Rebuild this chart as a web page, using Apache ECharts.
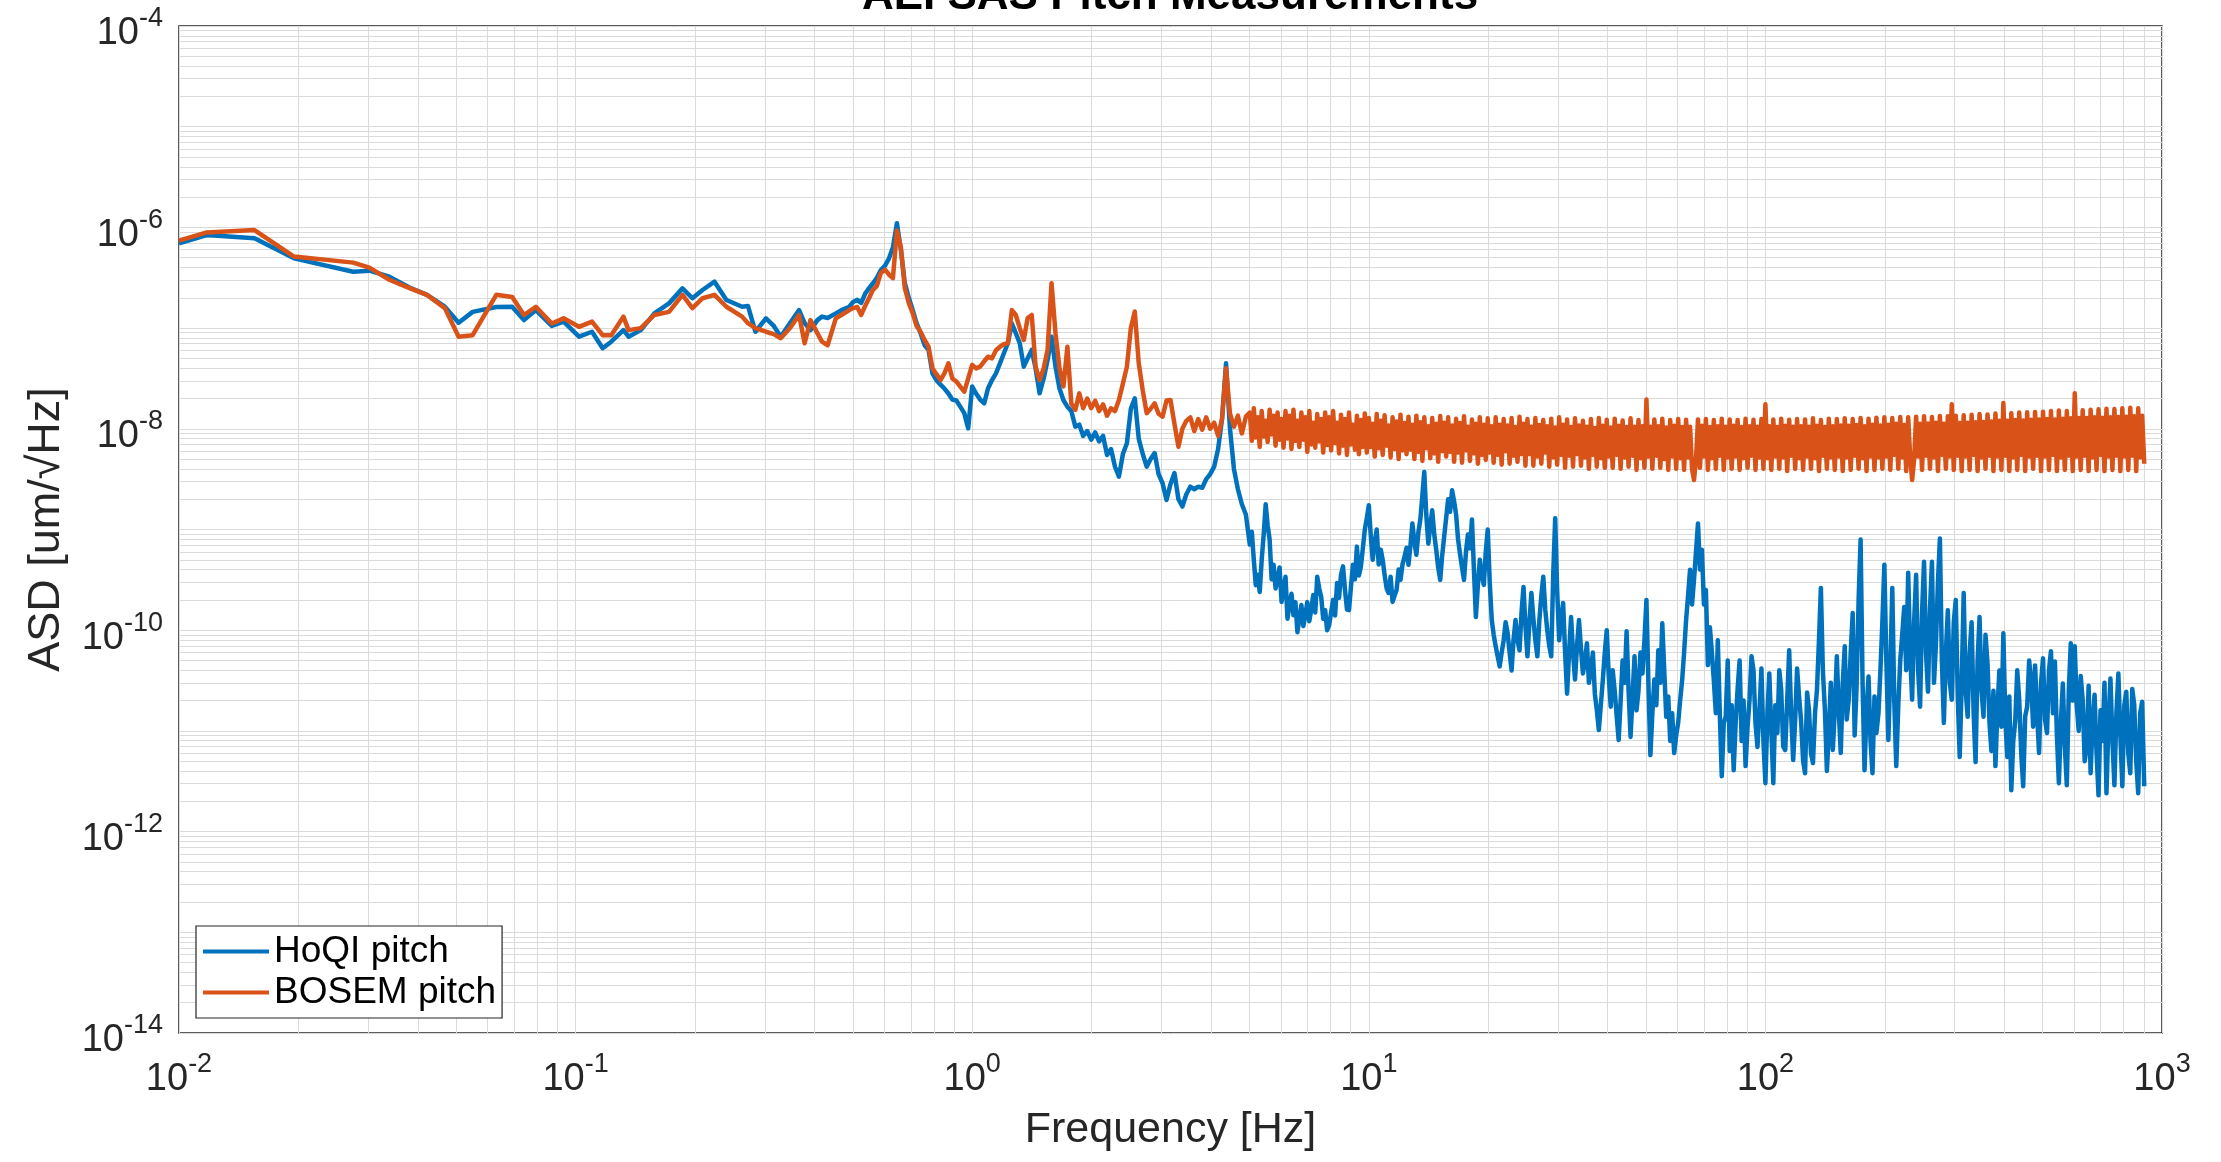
<!DOCTYPE html>
<html>
<head>
<meta charset="utf-8">
<script src="https://cdn.jsdelivr.net/npm/echarts@6/dist/echarts.min.js"></script>
<style>
html,body{margin:0;padding:0;background:#ffffff;}
#chart{width:2221px;height:1162px;}
</style>
</head>
<body>
<div id="chart"></div>
<script>
// Frequency grid [Hz] shared by both spectra
const freq = [
0.01,0.01175,0.0155,0.0195,0.0275,0.0302,0.0339,0.038,0.0422,0.0468,
0.0507,0.055,0.0631,0.0692,0.0741,0.0794,0.0871,0.0933,0.102,0.11,
0.117,0.123,0.132,0.136,0.146,0.158,0.172,0.186,0.197,0.209,
0.224,0.24,0.263,0.272,0.284,0.302,0.316,0.329,0.347,0.366,
0.378,0.391,0.407,0.418,0.432,0.453,0.468,0.49,0.501,
0.513,0.525,0.537,0.55,0.562,0.575,0.589,0.603,0.617,0.631,
0.646,0.661,0.676,0.692,0.708,0.724,0.741,0.759,0.776,0.794,
0.813,0.832,0.851,0.871,0.891,0.912,0.933,0.955,0.977,1.0,
1.023,1.047,1.072,1.096,1.122,1.148,1.175,1.202,1.23,1.259,
1.288,1.318,1.349,1.38,1.413,1.445,1.479,1.514,1.549,1.585,
1.622,1.66,1.698,1.738,1.778,1.82,1.862,1.905,1.95,1.995,
2.042,2.089,2.138,2.188,2.239,2.291,2.344,2.399,2.455,2.512,
2.57,2.63,2.692,2.754,2.818,2.884,2.951,3.02,3.09,3.162,
3.236,3.311,3.388,3.467,3.548,3.631,3.715,3.802,3.89,3.981,
4.074,4.169,4.266,4.365,4.467,4.571,4.677,4.786,4.898,
5.012,5.07,5.129,5.188,5.248,5.309,5.37,5.433,5.495,5.559,5.623,5.689,5.754,5.821,5.888,5.957,6.026,6.095,6.166,6.237,
6.31,6.383,6.457,6.531,6.607,6.683,6.761,6.839,6.918,6.998,7.079,7.161,7.244,7.328,7.413,7.499,7.586,7.674,7.762,7.852,
7.943,8.035,8.128,8.222,8.318,8.414,8.511,8.61,8.71,8.81,8.913,9.016,9.12,9.226,9.333,9.441,9.55,9.661,9.772,9.886,
10,10.12,10.23,10.35,10.47,10.59,10.72,10.84,10.96,11.09,11.22,11.35,11.48,11.61,11.75,11.89,12.02,12.16,12.3,12.45,
12.59,12.74,12.88,13.03,13.18,13.34,13.49,13.65,13.8,13.96,14.13,14.29,14.45,14.62,14.79,14.96,15.14,15.31,15.49,15.67,
15.85,16.03,16.22,16.41,16.6,16.79,16.98,17.18,17.38,17.58,17.78,17.99,18.2,18.41,18.62,18.84,19.05,19.28,19.5,19.72,
19.95,20.18,20.42,20.65,20.89,21.13,21.38,21.63,21.88,22.13,22.39,22.65,22.91,23.17,23.44,23.71,23.99,24.27,24.55,24.83,
25.12,25.41,25.7,26,26.3,26.61,26.92,27.23,27.54,27.86,28.18,28.51,28.84,29.17,29.51,29.85,30.2,30.55,30.9,31.26,
31.62,31.99,32.36,32.73,33.11,33.5,33.88,34.28,34.67,35.08,35.48,35.89,36.31,36.73,37.15,37.58,38.02,38.46,38.9,39.36,
39.81,40.27,40.74,41.21,41.69,42.17,42.66,43.15,43.65,44.16,44.67,45.19,45.71,46.24,46.77,47.32,47.86,48.42,48.98,49.55,
50.12,50.7,51.29,51.88,52.48,53.09,53.7,54.33,54.95,55.59,56.23,56.89,57.54,58.21,58.88,59.57,60.26,60.95,61.66,62.37,
63.1,63.83,64.57,65.31,66.07,66.83,67.61,68.39,69.18,69.98,70.79,71.61,72.44,73.28,74.13,74.99,75.86,76.74,77.62,78.52,
79.43,80.35,81.28,82.22,83.18,84.14,85.11,86.1,87.1,88.1,89.13,90.16,91.2,92.26,93.33,94.41,95.5,96.61,97.72,98.86,
100,101.2,102.3,103.5,104.7,105.9,107.2,108.4,109.6,110.9,112.2,113.5,114.8,116.1,117.5,118.9,120.2,121.6,123,124.5,
125.9,127.4,128.8,130.3,131.8,133.4,134.9,136.5,138,139.6,141.3,142.9,144.5,146.2,147.9,149.6,151.4,153.1,154.9,156.7,
158.5,160.3,162.2,164.1,166,167.9,169.8,171.8,173.8,175.8,177.8,179.9,182,184.1,186.2,188.4,190.5,192.8,195,197.2,
199.5,201.8,204.2,206.5,208.9,211.3,213.8,216.3,218.8,221.3,223.9,226.5,229.1,231.7,234.4,237.1,239.9,242.7,245.5,248.3,
251.2,254.1,257,260,263,266.1,269.2,272.3,275.4,278.6,281.8,285.1,288.4,291.7,295.1,298.5,302,305.5,309,312.6,
316.2,319.9,323.6,327.3,331.1,335,338.8,342.8,346.7,350.8,354.8,358.9,363.1,367.3,371.5,375.8,380.2,384.6,389,393.6,
398.1,402.7,407.4,412.1,416.9,421.7,426.6,431.5,436.5,441.6,446.7,451.9,457.1,462.4,467.7,473.2,478.6,484.2,489.8,495.5,
501.2,507,512.9,518.8,524.8,530.9,537,543.3,549.5,555.9,562.3,568.9,575.4,582.1,588.8,595.7,602.6,609.5,616.6,623.7,
631,638.3,645.7,653.1,660.7,668.3,676.1,683.9,691.8,699.8,707.9,716.1,724.4,732.8,741.3,749.9,758.6,767.4,776.2,785.2,
794.3,803.5,812.8,822.2,831.8,841.4,851.1,861,871,881,891.3,902
];

// HoQI pitch ASD [um/sqrt(Hz)]
const hoqiPitch = [
6.95e-7,8.41e-7,7.8e-7,4.93e-7,3.63e-7,3.72e-7,3.24e-7,2.54e-7,2.14e-7,1.63e-7,
1.13e-7,1.45e-7,1.62e-7,1.63e-7,1.2e-7,1.51e-7,1.05e-7,1.16e-7,8.22e-8,9.2e-8,
6.31e-8,7.33e-8,9.55e-8,8.22e-8,9.55e-8,1.4e-7,1.76e-7,2.48e-7,1.98e-7,2.39e-7,
2.89e-7,1.9e-7,1.63e-7,1.66e-7,9.2e-8,1.25e-7,1.05e-7,8.22e-8,1.12e-7,1.51e-7,
1.12e-7,9.55e-8,1.2e-7,1.3e-7,1.26e-7,1.4e-7,1.51e-7,1.63e-7,1.82e-7,
1.91e-7,1.78e-7,2.19e-7,2.51e-7,2.79e-7,3.16e-7,3.8e-7,4.17e-7,4.93e-7,6.31e-7,
1.1e-6,5.97e-7,2.82e-7,2.0e-7,1.51e-7,1.12e-7,8.91e-8,6.76e-8,6.07e-8,3.55e-8,
3.02e-8,2.75e-8,2.51e-8,2.24e-8,1.95e-8,1.91e-8,1.66e-8,1.43e-8,1.01e-8,2.63e-8,
2.24e-8,1.95e-8,1.79e-8,2.51e-8,3.05e-8,3.55e-8,4.47e-8,5.62e-8,7.08e-8,1.11e-7,
8.91e-8,7.08e-8,4.14e-8,5.01e-8,6.07e-8,3.98e-8,2.25e-8,3.16e-8,4.82e-8,8.22e-8,
4.14e-8,2.51e-8,1.93e-8,1.66e-8,1.5e-8,1.05e-8,1.1e-8,8.5e-9,9.5e-9,7.8e-9,
9.2e-9,7.5e-9,8.5e-9,5.5e-9,6.3e-9,4.2e-9,3.35e-9,5.62e-9,7.18e-9,1.58e-8,
2.01e-8,7.94e-9,5.62e-9,4.21e-9,5.01e-9,5.75e-9,3.55e-9,2.88e-9,1.96e-9,2.82e-9,
3.63e-9,2.0e-9,1.69e-9,2.24e-9,2.66e-9,2.51e-9,2.66e-9,2.6e-9,3.16e-9,3.55e-9,
4.21e-9,6.31e-9,1.26e-8,4.47e-8,1.0e-8,3.98e-9,2.51e-9,1.78e-9,1.41e-9,
7.08e-10,9.5e-10,5.01e-10,2.8e-10,3.55e-10,2.4e-10,5.01e-10,9e-10,1.78e-9,1.1e-9,7.94e-10,3.2e-10,4.47e-10,2.6e-10,3.16e-10,4.2e-10,1.91e-10,2.6e-10,3.39e-10,1.3e-10,
1.78e-10,2.3e-10,1.41e-10,1.9e-10,9.55e-11,1.3e-10,1.78e-10,1.1e-10,1.41e-10,1.9e-10,1.23e-10,1.6e-10,2.24e-10,1.5e-10,3.39e-10,2.6e-10,2.14e-10,1.3e-10,1.58e-10,1.0e-10,
1.12e-10,1.5e-10,2.0e-10,1.4e-10,2.95e-10,2.1e-10,3.55e-10,4.3e-10,2.51e-10,1.6e-10,1.58e-10,2.7e-10,4.47e-10,3.2e-10,6.76e-10,3.5e-10,4.27e-10,6.5e-10,1.0e-9,1.3e-9,
1.74e-9,8.5e-10,5.01e-10,7.5e-10,1.0e-9,4.5e-10,6.31e-10,5e-10,3.55e-10,2.6e-10,2.34e-10,3.4e-10,1.91e-10,2.2e-10,2.51e-10,4.0e-10,3.16e-10,4.5e-10,5.37e-10,6.6e-10,
4.47e-10,7e-10,1.15e-9,7.5e-10,5.62e-10,9.5e-10,1.26e-9,2.2e-9,3.72e-9,1.4e-9,7.24e-10,1.1e-9,1.55e-9,9e-10,6.31e-10,4.2e-10,3.16e-10,5.5e-10,8.51e-10,1.3e-9,
2.0e-9,1.5e-9,2.45e-9,1.9e-9,1.41e-9,8e-10,5.75e-10,4.2e-10,3.16e-10,6e-10,8.91e-10,6.5e-10,1.26e-9,4e-10,1.35e-10,2.8e-10,5.01e-10,3.5e-10,2.82e-10,6e-10,
1.0e-9,3e-10,1.26e-10,9e-11,6.92e-11,5.5e-11,4.37e-11,6e-11,7.94e-11,1.2e-10,9.33e-11,6e-11,3.98e-11,8e-11,1.26e-10,8e-11,6.31e-11,1.5e-10,2.69e-10,1.1e-10,
5.5e-11,1.2e-10,2.34e-10,1.3e-10,7.94e-11,5.5e-11,1.26e-10,2.2e-10,3.39e-10,1.6e-10,1.0e-10,7e-11,5.5e-11,3.5e-10,1.29e-9,2.5e-10,7.94e-11,1.3e-10,1.86e-10,6e-11,
2.34e-11,6e-11,1.35e-10,6e-11,3.24e-11,7e-11,1.26e-10,6.5e-11,3.72e-11,5e-11,7.41e-11,3e-11,3.98e-11,6e-11,2.34e-11,1.6e-11,1.02e-11,1.8e-11,3.16e-11,6e-11,
1.0e-10,3.5e-11,1.74e-11,4e-11,2.51e-11,1.4e-11,8.13e-12,2e-11,5.01e-11,3e-11,9.77e-11,2.5e-11,8.71e-12,2.2e-11,5.5e-11,1.6e-11,2.51e-11,6e-11,3.72e-11,8e-11,
2.0e-10,3e-11,5.75e-12,1.5e-11,3.24e-11,1.8e-11,6.31e-11,3e-11,1.17e-10,4e-11,1.38e-11,2.2e-11,7.94e-12,1.5e-11,6.03e-12,9e-12,1.2e-11,2e-11,3.16e-11,6e-11,
1.26e-10,2.2e-10,3.98e-10,1.8e-10,3.16e-10,6e-10,1.15e-9,4e-10,6.31e-10,1.8e-10,2.51e-10,4.5e-11,1.07e-10,6e-11,3.16e-11,1.5e-11,7.94e-11,1.5e-11,3.55e-12,1.2e-11,
1.38e-11,5e-11,6.31e-12,1.8e-11,4.07e-12,1.2e-11,2.63e-11,5e-11,7.94e-12,2e-11,4.47e-12,1.1e-11,2.04e-11,5.5e-11,3.98e-11,1.2e-11,6.92e-12,1.6e-11,4.17e-11,8e-12,
3.02e-12,1.5e-11,3.72e-11,1e-11,3.02e-12,1.8e-11,9.55e-12,4e-11,2.57e-11,7e-12,6.46e-12,2e-11,6.31e-11,1.5e-11,5.13e-12,1.3e-11,4.17e-11,2.2e-11,1.26e-11,5e-12,
3.8e-12,2.4e-11,1.62e-11,6e-12,4.79e-12,1.5e-11,2.57e-11,8e-11,2.63e-10,4e-11,1.58e-11,4e-12,9.55e-12,3e-11,6.46e-12,1.6e-11,5.5e-11,1.6e-11,6.03e-12,3e-11,
6.92e-11,1.3e-11,2.04e-11,6e-11,1.48e-10,9e-12,2.75e-11,2e-10,7.94e-10,3e-11,4.07e-12,1.6e-11,3.47e-11,8e-12,3.8e-12,2.2e-11,9.55e-12,1.5e-11,3.98e-11,1.2e-10,
4.47e-10,5e-11,8.13e-12,4e-11,2.63e-10,2e-11,4.47e-12,1.8e-11,5.01e-11,9e-11,1.7e-10,4e-11,3.72e-10,6e-11,2.04e-11,1.2e-10,3.55e-10,4e-11,1.74e-11,1.5e-10,
4.79e-10,6e-11,2.45e-11,1.6e-10,4.79e-10,3e-11,7.41e-11,3e-10,8.13e-10,5e-11,1.2e-11,6e-11,1.58e-10,3e-11,2.04e-11,1.2e-10,2.0e-10,2.2e-11,5.5e-12,3e-11,
2.34e-10,2.5e-11,1.38e-11,6e-11,1.2e-10,1.5e-11,4.9e-12,5e-11,1.35e-10,2.5e-11,1.38e-11,9e-11,4.68e-11,1.2e-11,6.31e-12,2.5e-11,4.47e-12,1.6e-11,3.98e-11,1.1e-11,
9.33e-11,1.3e-11,5.5e-12,2.2e-11,2.57e-12,8e-12,1.26e-11,4e-11,2.04e-11,6e-12,2.82e-12,1.4e-11,1.74e-11,5e-11,3.16e-11,1.1e-11,4.47e-11,1.5e-11,6.03e-12,3e-11,
5.25e-11,1.3e-11,9.55e-12,4e-11,6.17e-11,1.5e-11,4.9e-11,9e-12,3.02e-12,1.2e-11,2.95e-11,7e-12,2.88e-12,2.5e-11,7.41e-11,2e-11,6.92e-11,1.8e-11,1.0e-11,3.5e-11,
2.04e-11,5e-12,6.92e-12,2.8e-11,3.8e-12,1.2e-11,2.29e-11,6e-12,2.29e-12,1.6e-11,7.94e-12,3e-11,2.4e-12,1.2e-11,3.31e-11,8e-12,2.88e-12,1.5e-11,3.72e-11,9e-12,
2.82e-12,1.8e-11,2.45e-11,6e-12,3.8e-12,2.6e-11,1.82e-11,5e-12,2.4e-12,1.5e-11,1.95e-11,2.82e-12
];

// BOSEM pitch ASD [um/sqrt(Hz)]
const bosemPitch = [
7.38e-7,8.91e-7,9.42e-7,5.13e-7,4.47e-7,3.98e-7,3.02e-7,2.51e-7,2.14e-7,1.58e-7,
8.22e-8,8.51e-8,2.14e-7,2.04e-7,1.35e-7,1.63e-7,1.11e-7,1.25e-7,1.03e-7,1.16e-7,
8.51e-8,8.51e-8,1.3e-7,9.55e-8,1.0e-7,1.35e-7,1.45e-7,2.14e-7,1.58e-7,1.98e-7,
2.14e-7,1.63e-7,1.3e-7,1.12e-7,1.0e-7,9.2e-8,8.71e-8,7.94e-8,1.0e-7,1.35e-7,
7.08e-8,1.2e-7,8.91e-8,7.33e-8,6.76e-8,1.25e-7,1.35e-7,1.51e-7,1.58e-7,
1.62e-7,1.35e-7,1.66e-7,2.0e-7,2.4e-7,2.63e-7,3.55e-7,3.8e-7,3.39e-7,3.13e-7,
9.33e-7,6.31e-7,2.51e-7,1.78e-7,1.4e-7,1.05e-7,9.2e-8,7.59e-8,6.53e-8,3.98e-8,
3.47e-8,3.05e-8,3.55e-8,4.47e-8,3.16e-8,2.95e-8,2.63e-8,2.34e-8,3.16e-8,4.31e-8,
3.98e-8,4.14e-8,4.68e-8,5.2e-8,5.01e-8,6.03e-8,6.53e-8,6.92e-8,7.08e-8,1.51e-7,
1.35e-7,1.0e-7,7.62e-8,1.26e-7,1.35e-7,4.14e-8,3.05e-8,3.98e-8,6.07e-8,2.79e-7,
8.91e-8,3.98e-8,2.63e-8,6.53e-8,1.78e-8,1.54e-8,2.25e-8,1.6e-8,2.0e-8,1.6e-8,
1.9e-8,1.5e-8,1.75e-8,1.35e-8,1.6e-8,1.5e-8,1.93e-8,2.82e-8,4.14e-8,1.0e-7,
1.46e-7,4.47e-8,2.4e-8,1.43e-8,1.58e-8,1.79e-8,1.41e-8,1.32e-8,1.91e-8,1.93e-8,
1.12e-8,6.64e-9,1.0e-8,1.2e-8,1.3e-8,9.5e-9,1.25e-8,9.8e-9,1.3e-8,1.0e-8,
1.15e-8,8.5e-9,1.26e-8,4.0e-8,1.41e-8,1.05e-8,1.35e-8,9.0e-9,1.32e-8,
1.45e-8,7.6e-9,1.6e-8,8.2e-9,1.3e-8,6.6e-9,1.5e-8,8.4e-9,1.2e-8,7.4e-9,1.55e-8,8.8e-9,1.35e-8,6.8e-9,1.45e-8,7.8e-9,1.25e-8,6.5e-9,1.5e-8,8e-9,
1.35e-8,6.3e-9,1.55e-8,7.6e-9,1.2e-8,6.6e-9,1.45e-8,7.8e-9,1.3e-8,5.9e-9,1.5e-8,7e-9,1.15e-8,6.5e-9,1.4e-8,7.5e-9,1.25e-8,5.8e-9,1.45e-8,6.9e-9,
1.3e-8,6.1e-9,1.5e-8,7.2e-9,1.15e-8,5.7e-9,1.38e-8,6.8e-9,1.25e-8,5.5e-9,1.45e-8,7e-9,1.1e-8,6.2e-9,1.35e-8,5.6e-9,1.22e-8,6.6e-9,1.42e-8,5.8e-9,
1.28e-8,6.6e-9,1.12e-8,5.3e-9,1.4e-8,6.4e-9,1.2e-8,5.5e-9,1.36e-8,6.8e-9,1.08e-8,5.2e-9,1.3e-8,6.3e-9,1.18e-8,5e-9,1.38e-8,6.1e-9,1.14e-8,5.6e-9,
1.32e-8,6.2e-9,1.1e-8,5e-9,1.35e-8,5.9e-9,1.16e-8,4.8e-9,1.3e-8,6.4e-9,1.06e-8,5.1e-9,1.28e-8,5.7e-9,1.12e-8,4.7e-9,1.34e-8,6e-9,1.15e-8,5.3e-9,
1.3e-8,5.9e-9,1.08e-8,4.7e-9,1.26e-8,5.8e-9,1.14e-8,4.6e-9,1.33e-8,6.1e-9,1.05e-8,4.8e-9,1.24e-8,5.7e-9,1.12e-8,4.5e-9,1.3e-8,5.5e-9,1.1e-8,4.9e-9,
1.27e-8,5.8e-9,1.06e-8,4.6e-9,1.3e-8,5.5e-9,1.1e-8,4.4e-9,1.25e-8,6e-9,1.08e-8,4.5e-9,1.28e-8,5.4e-9,1.04e-8,4.7e-9,1.32e-8,5.6e-9,1.12e-8,4.3e-9,
1.25e-8,5.6e-9,1.05e-8,4.3e-9,1.28e-8,5.3e-9,1.09e-8,4.5e-9,1.22e-8,5.8e-9,1.06e-8,4.2e-9,1.26e-8,5.2e-9,1.03e-8,4.4e-9,1.3e-8,5.5e-9,1.1e-8,4.1e-9,
1.24e-8,5.4e-9,1.04e-8,4.2e-9,1.27e-8,5.6e-9,1.08e-8,4.3e-9,1.2e-8,5.2e-9,1.05e-8,4e-9,1.25e-8,5.5e-9,1.02e-8,4.2e-9,1.28e-8,5.1e-9,1.07e-8,4.1e-9,
1.23e-8,5.3e-9,1.03e-8,4.1e-9,1.26e-8,5.5e-9,1.07e-8,4e-9,1.21e-8,5.2e-9,1.04e-8,4.2e-9,1.27e-8,5.4e-9,1.05e-8,3.9e-9,1.22e-8,5.1e-9,1.06e-8,4.1e-9,
1.95e-8,5.3e-9,1.05e-8,4e-9,1.24e-8,5.4e-9,1.06e-8,4.1e-9,1.26e-8,5e-9,1.03e-8,3.9e-9,1.22e-8,5.3e-9,1.07e-8,4e-9,1.25e-8,5.1e-9,1.04e-8,3.9e-9,
1.23e-8,5.2e-9,1.05e-8,4e-9,3.1e-9,5e-9,1.24e-8,4.1e-9,1.07e-8,5.3e-9,1.25e-8,3.9e-9,1.04e-8,5.1e-9,1.22e-8,4e-9,1.06e-8,5.4e-9,1.26e-8,3.9e-9,
1.05e-8,5.2e-9,1.24e-8,4e-9,1.07e-8,5.3e-9,1.22e-8,3.9e-9,1.04e-8,5.1e-9,1.26e-8,4.1e-9,1.06e-8,5.4e-9,1.23e-8,3.9e-9,1.05e-8,5.2e-9,1.25e-8,4e-9,
1.75e-8,5.1e-9,1.06e-8,3.9e-9,1.24e-8,5.3e-9,1.04e-8,4e-9,1.26e-8,5.2e-9,1.07e-8,3.8e-9,1.23e-8,5.4e-9,1.05e-8,4e-9,1.25e-8,5.1e-9,1.06e-8,3.9e-9,
1.24e-8,5.3e-9,1.05e-8,4e-9,1.27e-8,5.1e-9,1.07e-8,3.8e-9,1.22e-8,5.4e-9,1.04e-8,4e-9,1.26e-8,5.2e-9,1.06e-8,3.9e-9,1.25e-8,5.3e-9,1.08e-8,3.8e-9,
1.27e-8,5.2e-9,1.07e-8,3.9e-9,1.25e-8,5.4e-9,1.09e-8,4e-9,1.28e-8,5.1e-9,1.06e-8,3.8e-9,1.26e-8,5.3e-9,1.1e-8,3.9e-9,1.29e-8,5.2e-9,1.08e-8,4e-9,
1.3e-8,5.3e-9,1.1e-8,3.9e-9,1.28e-8,5.5e-9,1.12e-8,4e-9,1.31e-8,5.2e-9,1.09e-8,3.8e-9,1.3e-8,5.4e-9,3.1e-9,4.9e-9,1.32e-8,5.3e-9,1.12e-8,3.9e-9,
1.33e-8,5.4e-9,1.13e-8,4e-9,1.31e-8,5.2e-9,1.15e-8,3.8e-9,1.34e-8,5.5e-9,1.12e-8,4e-9,1.33e-8,5.3e-9,1.75e-8,3.9e-9,1.35e-8,5.4e-9,1.14e-8,3.8e-9,
1.36e-8,5.3e-9,1.15e-8,3.9e-9,1.38e-8,5.5e-9,1.16e-8,3.8e-9,1.4e-8,5.2e-9,1.17e-8,4e-9,1.39e-8,5.4e-9,1.18e-8,3.8e-9,1.42e-8,5.3e-9,1.2e-8,3.9e-9,
1.8e-8,5.4e-9,1.2e-8,3.8e-9,1.43e-8,5.2e-9,1.22e-8,3.9e-9,1.45e-8,5.5e-9,1.21e-8,3.8e-9,1.46e-8,5.3e-9,1.23e-8,4e-9,1.47e-8,5.4e-9,1.24e-8,3.8e-9,
1.48e-8,5.3e-9,1.25e-8,3.9e-9,1.5e-8,5.5e-9,1.24e-8,3.8e-9,1.52e-8,5.2e-9,1.26e-8,3.9e-9,1.5e-8,5.4e-9,1.27e-8,3.8e-9,2.25e-8,5.3e-9,1.28e-8,3.9e-9,
1.53e-8,5.4e-9,1.28e-8,3.8e-9,1.55e-8,5.2e-9,1.3e-8,3.9e-9,1.56e-8,5.5e-9,1.29e-8,3.8e-9,1.58e-8,5.3e-9,1.3e-8,3.9e-9,1.57e-8,5.4e-9,1.31e-8,3.8e-9,
1.6e-8,5.3e-9,1.32e-8,3.9e-9,1.62e-8,5.4e-9,1.33e-8,3.8e-9,1.6e-8,5.2e-9,1.35e-8,4.5e-9
];

const seriesNames = ['HoQI pitch', 'BOSEM pitch'];
const chartTitle = 'AEI SAS Pitch Measurements';
const xAxisTitle = 'Frequency [Hz]';
const yAxisTitle = 'ASD [um/\u221AHz]';
const xRange = [1e-2, 1e3];
const yRange = [1e-14, 1e-4];
// exponent range for the y tick labels (10^-14 ... 10^-4, every 2 decades)
const yLabelExpRange = [-14, -4];
const yLabelExpStep = 2;

// log-grid line positions (decades and their 2..9 multiples)
function logGridValues(loExp, hiExp) {
  const out = [];
  for (let e = loExp; e < hiExp; e++) {
    for (let k = 1; k <= 9; k++) out.push(+(k * Math.pow(10, e)).toPrecision(3));
  }
  out.push(Math.pow(10, hiExp));
  return out;
}
const xGrid = logGridValues(-2, 3);
const yGrid = logGridValues(-14, -4);

const FONT = 'Liberation Sans, Arial, Helvetica, sans-serif';
const AXC = '#262626';
const richTick = {
  b: {fontSize: 38, fontFamily: FONT, color: AXC, height: 40, lineHeight: 44, verticalAlign: 'bottom'},
  s: {fontSize: 27, fontFamily: FONT, color: AXC, height: 18, verticalAlign: 'top'}
};
function powLabel(e) {
  return '{b|10}{s|' + e + '}';
}

const chart = echarts.init(document.getElementById('chart'), null, {renderer: 'canvas'});
chart.setOption({
  animation: false,
  backgroundColor: '#ffffff',
  title: {
    text: chartTitle,
    left: 1170,
    top: -25,
    padding: 0,
    textAlign: 'center',
    textStyle: {fontSize: 44, fontWeight: 'bold', fontFamily: FONT, color: '#000000'}
  },
  grid: {
    left: 179, right: 59, top: 26, bottom: 129,
    containLabel: false,
    outerBoundsMode: 'none',
    show: true,
    backgroundColor: '#ffffff',
    borderColor: AXC,
    borderWidth: 1.5
  },
  legend: {
    orient: 'vertical',
    left: 196,
    top: 926,
    padding: [7, 6, 7, 7],
    itemGap: 4,
    itemWidth: 66,
    itemHeight: 4,
    backgroundColor: '#ffffff',
    borderColor: AXC,
    borderWidth: 1.2,
    borderRadius: 0,
    selectedMode: false,
    textStyle: {fontSize: 37, fontFamily: FONT, color: '#000000'},
    data: [{name: seriesNames[0], icon: 'rect'}, {name: seriesNames[1], icon: 'rect'}]
  },
  xAxis: {
    type: 'log',
    logBase: 10,
    min: xRange[0],
    max: xRange[1],
    name: xAxisTitle,
    nameLocation: 'middle',
    nameGap: 76,
    nameTextStyle: {fontSize: 43, fontFamily: FONT, color: AXC},
    axisLine: {show: false},
    axisTick: {show: false},
    splitLine: {show: false},
    axisLabel: {
      margin: 23,
      formatter: function (v) { return powLabel(Math.round(Math.log10(v))); },
      rich: richTick
    }
  },
  yAxis: [
    {
      type: 'log',
      logBase: 10,
      min: yRange[0],
      max: yRange[1],
      name: yAxisTitle,
      nameLocation: 'middle',
      nameGap: 110,
      nameTextStyle: {fontSize: 45, fontFamily: FONT, color: AXC},
      axisLine: {show: false},
      axisTick: {show: false},
      splitLine: {show: false},
      axisLabel: {show: false}
    },
    {
      // exponent axis sharing the same grid, used only for the 10^n tick labels
      type: 'value',
      position: 'left',
      min: yLabelExpRange[0],
      max: yLabelExpRange[1],
      interval: yLabelExpStep,
      axisLine: {show: false},
      axisTick: {show: false},
      splitLine: {show: false},
      axisLabel: {
        margin: 16,
        padding: [12, 0, 0, 0],
        hideOverlap: false,
        formatter: function (v) { return powLabel(v); },
        rich: richTick
      }
    }
  ],
  series: [
    {
      name: seriesNames[0],
      type: 'line',
      yAxisIndex: 0,
      data: freq.map((f, i) => [f, hoqiPitch[i]]),
      showSymbol: false,
      symbol: 'none',
      silent: true,
      color: '#0072BD',
      lineStyle: {color: '#0072BD', width: 4.5, join: 'round'},
      emphasis: {disabled: true},
      z: 3,
      markLine: {
        silent: true,
        z: 1,
        precision: 20,
        symbol: ['none', 'none'],
        animation: false,
        label: {show: false},
        emphasis: {disabled: true},
        lineStyle: {color: '#dadada', width: 1, type: 'solid'},
        data: xGrid.map(v => ({xAxis: v})).concat(yGrid.map(v => ({yAxis: v})))
      }
    },
    {
      name: seriesNames[1],
      type: 'line',
      yAxisIndex: 0,
      data: freq.map((f, i) => [f, bosemPitch[i]]),
      showSymbol: false,
      symbol: 'none',
      silent: true,
      color: '#D95319',
      lineStyle: {color: '#D95319', width: 4.5, join: 'round'},
      emphasis: {disabled: true},
      z: 3
    }
  ]
});
</script>
</body>
</html>
